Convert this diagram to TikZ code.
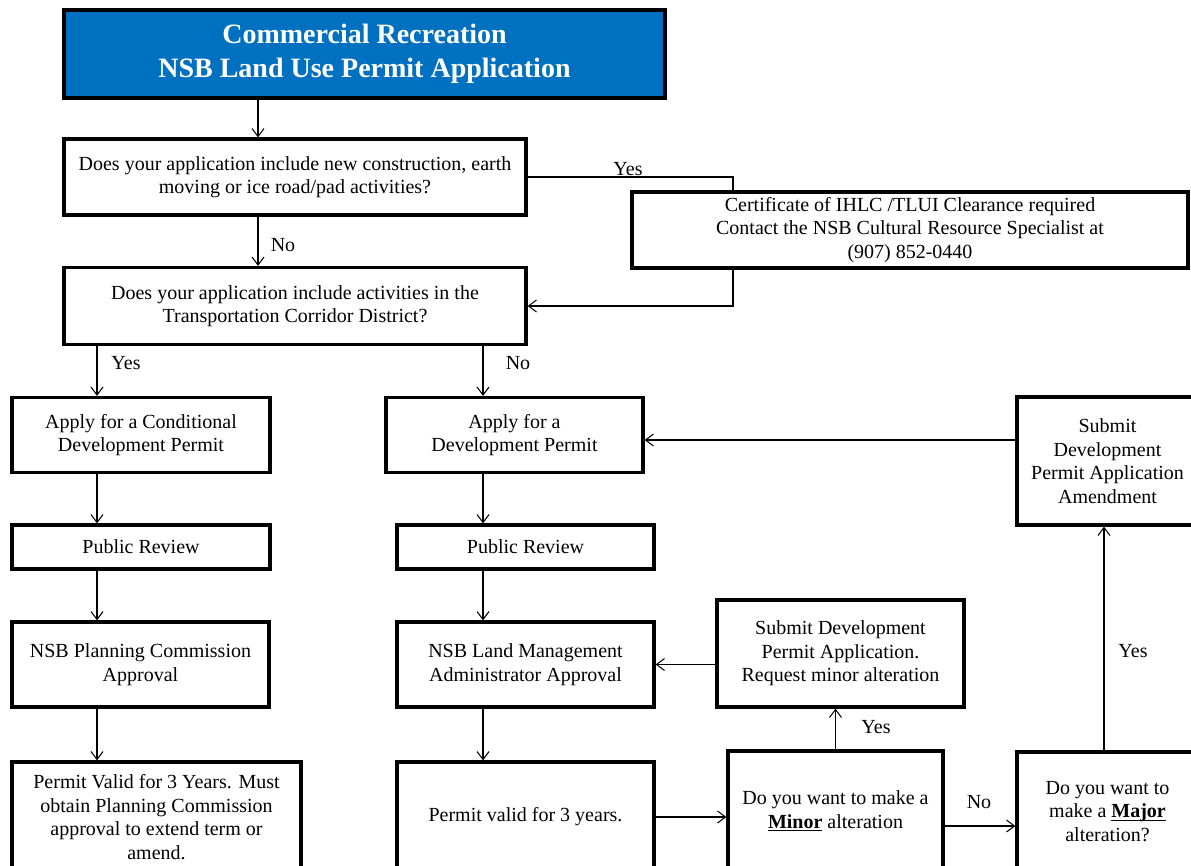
\documentclass[tikz,border=0pt]{standalone}
\usepackage{fontspec}
\setmainfont{Liberation Serif}
\usetikzlibrary{arrows.meta, positioning, calc}
\definecolor{titleblue}{RGB}{0,112,192}
\newcommand{\bodytxt}{\fontsize{15}{17.6}\selectfont}
\newcommand{\headtxt}{\fontsize{21}{25.5}\selectfont\bfseries}
\newcommand{\keyword}[1]{\textbf{\underline{\smash{#1}}}}

\begin{document}
\begin{tikzpicture}[x=0.75pt, y=-0.75pt,
  >={Straight Barb[length=6pt,width=9pt]},
  box/.style 2 args={draw, line width=2.4pt, fill=white, align=center, inner sep=0pt,
    font=\bodytxt, minimum width=#1*0.75pt, minimum height=#2*0.75pt},
  lbl/.style={font=\bodytxt, inner sep=0pt},
  flow/.style={->, line width=0.8pt}]
  \useasboundingbox (0,0) rectangle (1191,865);
  \clip (0,0) rectangle (1191,865);
  % Boxes
  \node[box={601}{88}, fill=titleblue, text=white, font=\headtxt] (title) at (364.5,54)
    {Commercial Recreation\\NSB Land Use Permit Application};
  \node[box={462}{76}] (q1) at (295,177)
    {Does your application include new construction, earth\\moving or ice road/pad activities?};
  \node[box={556}{76}] (cert) at (910,230)
    {Certificate of IHLC /TLUI Clearance required\\Contact the NSB Cultural Resource Specialist at\\(907) 852-0440};
  \node[box={462}{77}] (q2) at (295,306)
    {Does your application include activities in the\\Transportation Corridor District?};
  \node[box={258}{75}] (cdp) at (141,435) {Apply for a Conditional\\Development Permit};
  \node[box={257}{75}] (dp) at (514.5,435) {Apply for a\\Development Permit};
  \node[box={181}{128}] (amend) at (1107.5,461) {Submit\\Development\\Permit Application\\Amendment};
  \node[box={258}{44}] (pr1) at (141,547) {Public Review};
  \node[box={257}{44}] (pr2) at (525.5,547) {Public Review};
  \node[box={257}{85}] (pc) at (140.5,664.5) {NSB Planning Commission\\Approval};
  \node[box={257}{85}] (lm) at (525.5,664.5) {NSB Land Management\\Administrator Approval};
  \node[box={247}{107}] (subminor) at (840.5,653.5)
    {Submit Development\\Permit Application.\\Request minor alteration};
  \node[box={289}{110}] (pv1) at (156.5,817)
    {Permit Valid for 3 Years. Must\\obtain Planning Commission\\approval to extend term or\\amend.};
  \node[box={257}{110}] (pv2) at (525.5,817) {Permit valid for 3 years.};
  \node[box={215}{120}] (minor) at (835.5,811)
    {Do you want to make a\\\keyword{Minor} alteration};
  \node[box={181}{119}] (major) at (1107.5,811.5)
    {Do you want to\\make a \keyword{Major}\\alteration?};

  % Helper coordinates for the connectors
  \coordinate (colT) at (258,0);
  \coordinate (colA) at (97,0);
  \coordinate (colB) at (483,0);
  \coordinate (colUp) at (1104,0);
  \coordinate (elbow) at (733,177);
  \coordinate (rowAm) at (0,440);
  \coordinate (rowNo) at (0,826);

  % Connectors
  \draw[flow] (title.south -| colT) -- (q1.north -| colT);
  \draw[flow] (q1.south -| colT) -- (q2.north -| colT);
  \draw[line width=0.8pt] (q1.east |- elbow) -- (elbow) -- (elbow |- cert.north);
  \draw[flow] (elbow |- cert.south) |- (q2.east);
  \draw[flow] (q2.south -| colA) -- (cdp.north -| colA);
  \draw[flow] (q2.south -| colB) -- (dp.north -| colB);
  \draw[flow] (cdp.south -| colA) -- (pr1.north -| colA);
  \draw[flow] (pr1.south -| colA) -- (pc.north -| colA);
  \draw[flow] (pc.south -| colA) -- (pv1.north -| colA);
  \draw[flow] (dp.south -| colB) -- (pr2.north -| colB);
  \draw[flow] (pr2.south -| colB) -- (lm.north -| colB);
  \draw[flow] (lm.south -| colB) -- (pv2.north -| colB);
  \draw[flow] (amend.west |- rowAm) -- (dp.east |- rowAm);
  \draw[flow] (subminor.west |- lm.east) -- (lm.east);
  \draw[flow] (pv2.east) -- (pv2.east -| minor.west);
  \draw[flow] (minor.north) -- (minor.north |- subminor.south);
  \draw[flow] (minor.east |- rowNo) -- (major.west |- rowNo);
  \draw[flow] (major.north -| colUp) -- (amend.south -| colUp);

  % Labels
  \node[lbl] (yes1) at (628,169) {Yes};
  \node[lbl] (no1) at (283,245) {No};
  \node[lbl] (yes2) at (126,363) {Yes};
  \node[lbl] (no2) at (518,363) {No};
  \node[lbl] (yes3) at (876,727) {Yes};
  \node[lbl] (no3) at (979,802) {No};
  \node[lbl] (yes4) at (1133,651) {Yes};
\end{tikzpicture}
\end{document}
